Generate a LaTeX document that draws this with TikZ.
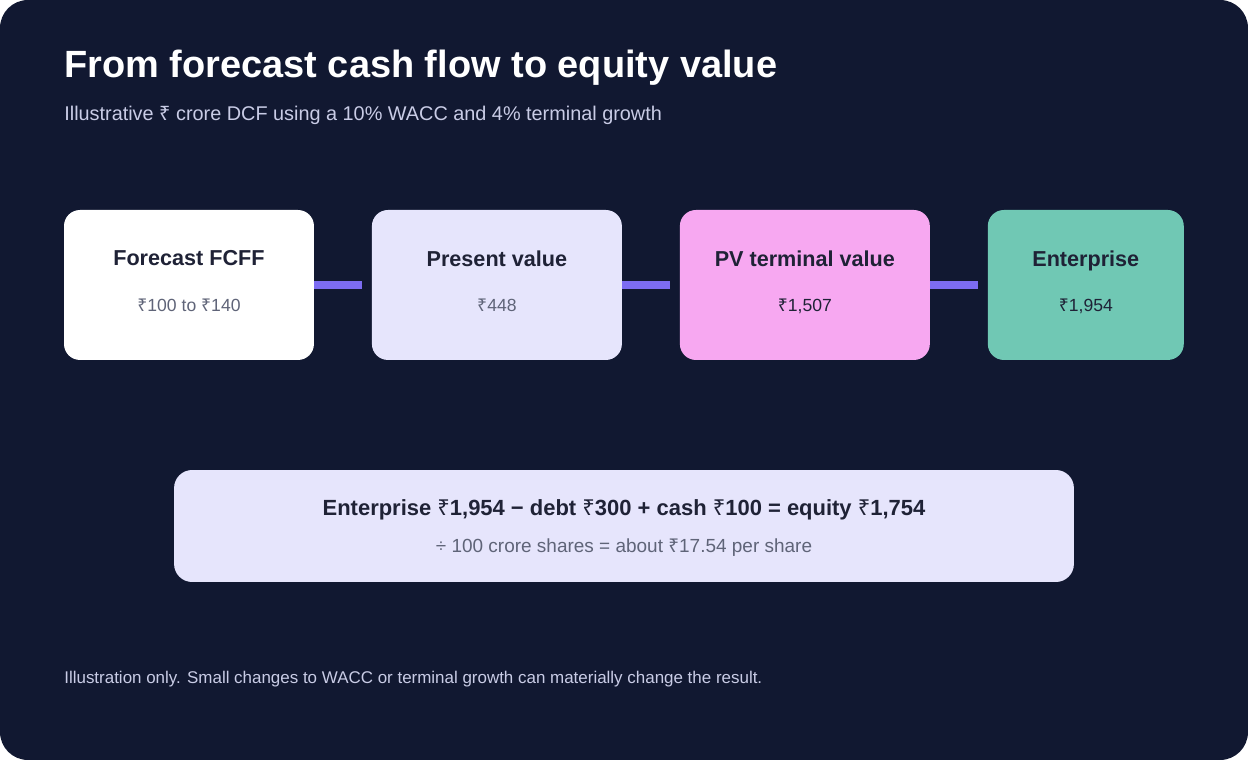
\documentclass[tikz,border=0pt]{standalone}
\usepackage{fontspec}
\setmainfont{Liberation Sans}
\newfontfamily\rupeefont{Noto Sans}
\usetikzlibrary{positioning}

\definecolor{pagebg}{HTML}{111831}
\definecolor{inkdark}{HTML}{1F2236}
\definecolor{inkgrey}{HTML}{5F6478}
\definecolor{inksoft}{HTML}{C9CCE6}
\definecolor{lavender}{HTML}{E6E5FC}
\definecolor{pinkbox}{HTML}{F7A8F1}
\definecolor{tealbox}{HTML}{70C8B4}
\definecolor{linkcol}{HTML}{7C6CF2}

\newcommand{\rs}{{\rupeefont ₹}}

\begin{document}
\begin{tikzpicture}[
    x=0.02cm, y=-0.02cm,
    stage/.style={rectangle, rounded corners=0.32cm, minimum width=5cm, minimum height=3cm,
        align=center, inner sep=0pt, outer sep=0pt, text depth=4.5pt, text=inkdark,
        font=\fontsize{10}{12}\selectfont},
    summary/.style={rectangle, rounded corners=0.36cm, fill=lavender, minimum width=18cm,
        minimum height=2.24cm, align=center, inner sep=0pt, outer sep=0pt, text depth=0pt,
        text=inkdark, font=\fontsize{10.8}{12}\selectfont},
    link/.style={draw=linkcol, line width=0.15cm}
]

% Frame
\fill[white] (0,0) rectangle (1248,760);
\fill[pagebg, rounded corners=0.56cm] (0,0) rectangle (1248,760);
\useasboundingbox (0,0) rectangle (1248,760);

% Heading
\node[anchor=west, inner sep=0pt, text=white, font=\fontsize{21.6}{24}\selectfont\bfseries] (title) at (64,68)
    {From forecast cash flow to equity value};
\node[anchor=west, inner sep=0pt, text=inksoft, font=\fontsize{11.3}{13}\selectfont] (subtitle) at (64,115)
    {Illustrative \rs{} crore DCF using a 10\% WACC and 4\% terminal growth};

% Stages
\node[stage, fill=white, anchor=north west] (fcff) at (64,210) {%
    {\fontsize{12.3}{12}\selectfont\bfseries Forecast FCFF}\\[14pt]
    {\color{inkgrey}\rs100 to \rs140}};
\node[stage, fill=lavender, right=1.16cm of fcff] (pv) {%
    {\fontsize{12.3}{12}\selectfont\bfseries Present value}\\[14pt]
    {\color{inkgrey}\rs448}};
\node[stage, fill=pinkbox, right=1.16cm of pv] (pvtv) {%
    {\fontsize{12.3}{12}\selectfont\bfseries PV terminal value}\\[14pt]
    \rs1,507};
\node[stage, fill=tealbox, minimum width=3.92cm, right=1.16cm of pvtv] (ent) {%
    {\fontsize{12.3}{12}\selectfont\bfseries Enterprise}\\[14pt]
    \rs1,954};

% Links
\draw[link] (fcff.east) -- ([xshift=-0.2cm]pv.west);
\draw[link] (pv.east) -- ([xshift=-0.2cm]pvtv.west);
\draw[link] (pvtv.east) -- ([xshift=-0.2cm]ent.west);

% Equity bridge
\node[summary] (equity) at (624,526) {%
    {\fontsize{12.5}{12}\selectfont\bfseries Enterprise \rs1,954 − debt \rs300 + cash \rs100 = equity \rs1,754}\\[9pt]
    {\color{inkgrey}÷ 100 crore shares = about \rs17.54 per share}};

% Footnote
\node[anchor=west, inner sep=0pt, text=inksoft, font=\fontsize{9.65}{11}\selectfont] (note) at (64,679)
    {Illustration only. Small changes to WACC or terminal growth can materially change the result.};

\end{tikzpicture}
\end{document}
